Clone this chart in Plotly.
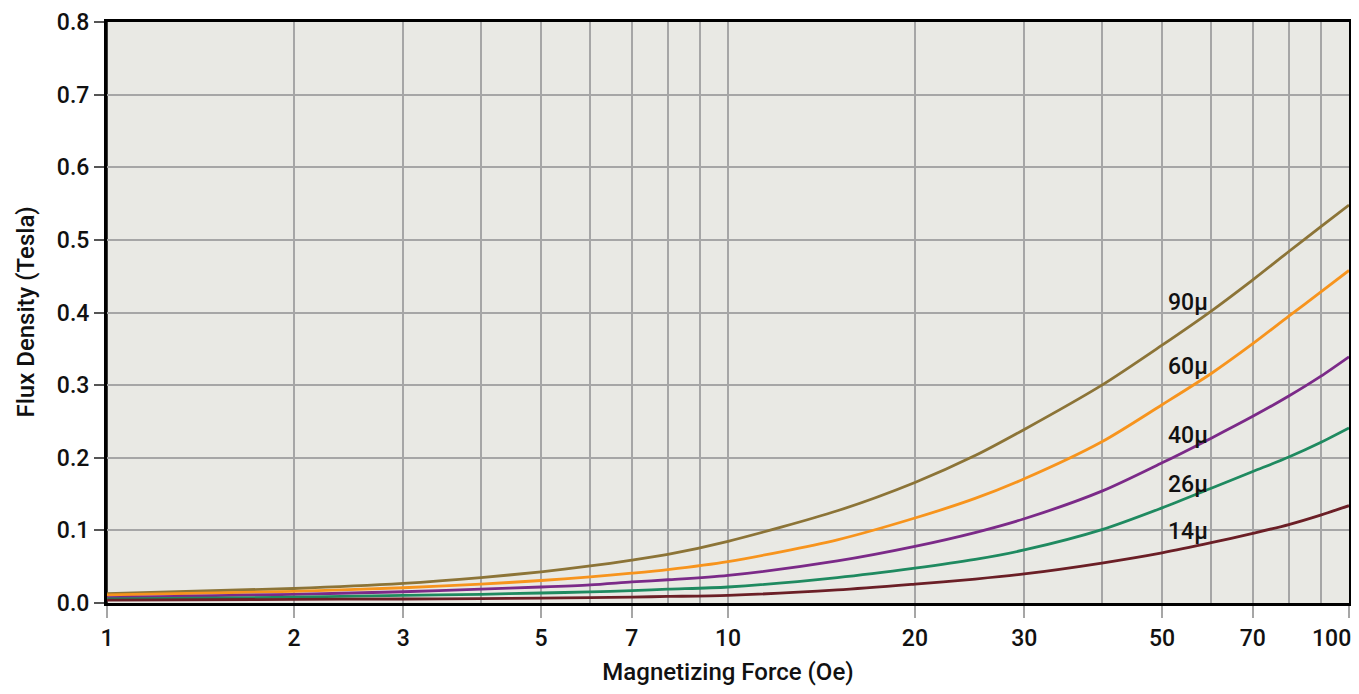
import math
import plotly.graph_objects as go

force = [1, 2, 3, 4, 5, 6, 7, 8, 10, 15, 20, 25, 30, 40, 50, 60, 70, 80, 90, 100]
b90 = [0.013, 0.020, 0.027, 0.035, 0.043, 0.051, 0.059, 0.067, 0.085, 0.127, 0.166, 0.203, 0.239, 0.300, 0.355, 0.402, 0.445, 0.484, 0.518, 0.548]
b60 = [0.011, 0.016, 0.021, 0.026, 0.031, 0.036, 0.041, 0.046, 0.057, 0.087, 0.117, 0.144, 0.171, 0.222, 0.273, 0.316, 0.357, 0.395, 0.428, 0.458]
b40 = [0.0075, 0.012, 0.0155, 0.019, 0.022, 0.025, 0.029, 0.032, 0.038, 0.058, 0.078, 0.097, 0.116, 0.154, 0.193, 0.227, 0.257, 0.285, 0.312, 0.339]
b26 = [0.0055, 0.008, 0.0105, 0.012, 0.0138, 0.0152, 0.017, 0.019, 0.022, 0.035, 0.048, 0.060, 0.073, 0.101, 0.131, 0.158, 0.181, 0.201, 0.221, 0.241]
b14 = [0.004, 0.005, 0.0055, 0.006, 0.0068, 0.0075, 0.0082, 0.009, 0.0105, 0.018, 0.026, 0.033, 0.040, 0.055, 0.069, 0.083, 0.096, 0.108, 0.121, 0.134]

names = ["90µ", "60µ", "40µ", "26µ", "14µ"]
series = [b90, b60, b40, b26, b14]
colors = ["#8C7437", "#F7941D", "#7B2A88", "#1F8A60", "#6B1F26"]
label_x = 55
label_y = [0.414, 0.326, 0.230, 0.163, 0.099]

major_ticks = [1, 2, 3, 5, 7, 10, 20, 30, 50, 70, 100]
minor_ticks = [4, 6, 8, 9, 40, 60, 80, 90]
y_ticks = [0.0, 0.1, 0.2, 0.3, 0.4, 0.5, 0.6, 0.7, 0.8]
ref_line_x = 10

FONT = "Roboto, Liberation Sans Narrow, DejaVu Sans Condensed, sans-serif"
GRID = "#A6A6A6"
TICKFONT = dict(family=FONT, size=23, weight=500, color="#111111")
TITLEFONT = dict(family=FONT, size=24, weight=500, color="#111111")

fig = go.Figure()
for n, s, c in zip(names, series, colors):
    fig.add_trace(go.Scatter(x=force, y=s, mode="lines", name=n,
                             line=dict(color=c, width=2.8, shape="spline", smoothing=0.8),
                             showlegend=False))

for n, ly in zip(names, label_y):
    fig.add_annotation(x=math.log10(label_x), y=ly, text=n, showarrow=False,
                       font=dict(family=FONT, size=23, color="#111111", weight=500),
                       xanchor="center", yanchor="middle")

# last x tick label drawn right-aligned at the plot edge so it is not clipped
last_tick = major_ticks[-1]
tick_text = [str(v) for v in major_ticks[:-1]] + [""]
fig.add_annotation(x=math.log10(last_tick), xref="x", y=0, yref="paper",
                   text=str(last_tick), showarrow=False, xanchor="right", yanchor="middle",
                   yshift=-35, xshift=4, font=TICKFONT)

# y-axis title
fig.add_annotation(x=0, xref="paper", y=0.5, yref="paper", text="Flux Density (Tesla)",
                   textangle=-90, showarrow=False, xanchor="center", yanchor="middle",
                   xshift=-82, font=TITLEFONT)

fig.add_shape(type="line", xref="x", yref="paper",
              x0=math.log10(ref_line_x), x1=math.log10(ref_line_x), y0=-0.022, y1=1,
              line=dict(color="black", width=1.5), layer="between")

# page body has an 8px margin in the written html; compensate
fig.update_layout(
    width=1351, height=678,
    margin=dict(l=99, r=10, t=14, b=83),
    paper_bgcolor="white",
    plot_bgcolor="#E9E9E4",
    font=dict(family=FONT, size=22, color="#111111"),
    xaxis=dict(
        type="log", range=[0, 2], automargin=False,
        tickvals=major_ticks, ticktext=tick_text,
        ticks="outside", ticklen=12, tickcolor=GRID, tickwidth=1.6,
        ticklabeloverflow="allow",
        showgrid=True, gridcolor=GRID, gridwidth=1.6,
        minor=dict(tickvals=minor_ticks, showgrid=True, gridcolor=GRID, gridwidth=1.6, ticks=""),
        showline=True, linecolor="black", linewidth=3, mirror=True,
        zeroline=False,
        title=dict(text="Magnetizing Force (Oe)", font=TITLEFONT, standoff=25),
        tickfont=TICKFONT,
    ),
    yaxis=dict(
        range=[0, 0.8], automargin=False,
        tickvals=y_ticks, ticktext=[f"{v:.1f}" for v in y_ticks],
        ticks="outside", ticklen=10, tickcolor="#555555", tickwidth=1.5,
        ticklabeloverflow="allow",
        showgrid=True, gridcolor=GRID, gridwidth=1.6,
        showline=True, linecolor="black", linewidth=3, mirror=True,
        zeroline=False,
        tickfont=TICKFONT,
    ),
)

fig.write_html("out.html")
